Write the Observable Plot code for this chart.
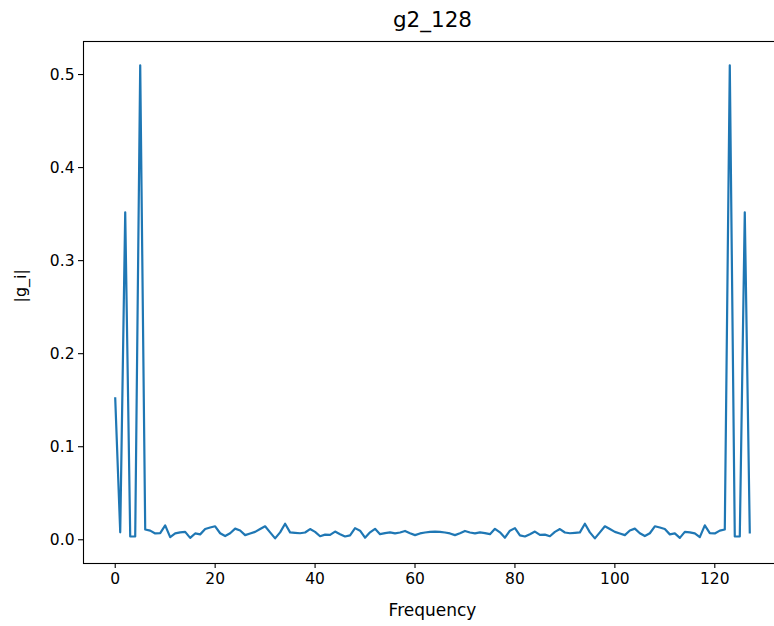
<!DOCTYPE html>
<html>
<head>
<meta charset="utf-8">
<script src="https://cdn.jsdelivr.net/npm/d3@7"></script>
<script src="https://cdn.jsdelivr.net/npm/@observablehq/plot@0.6"></script>
<style>
html, body { margin: 0; padding: 0; background: #fff; overflow: hidden; width: 774px; height: 626px; }
#chart { width: 800px; height: 626px; }
#chart svg { display: block; max-width: none !important; width: 800px !important; height: 626px !important; }
</style>
</head>
<body>
<div id="chart"></div>
<script>
const title = "g2_128";
const xLabel = "Frequency";
const yLabel = "|g_i|";
const xTicks = [0, 20, 40, 60, 80, 100, 120];
const yTicks = [0.0, 0.1, 0.2, 0.3, 0.4, 0.5];

// |g_i| for frequencies 0..127
const magnitudes = [
  0.152, 0.008, 0.352, 0.0035, 0.0035, 0.510, 0.011, 0.0098, 0.0068, 0.0072,
  0.0155, 0.0028, 0.0068, 0.0080, 0.0085, 0.0020, 0.0068, 0.0058, 0.0115, 0.0132,
  0.0145, 0.0070, 0.0040, 0.0070, 0.0120, 0.0100, 0.0050, 0.0068, 0.0085, 0.0115,
  0.0145, 0.0080, 0.0015, 0.0080, 0.0172, 0.0080, 0.0075, 0.0070, 0.0078, 0.0115,
  0.0085, 0.0038, 0.0055, 0.0052, 0.0088, 0.0060, 0.0035, 0.0048, 0.0125, 0.0098,
  0.0022, 0.0080, 0.0118, 0.0060, 0.0072, 0.0080, 0.0068, 0.0078, 0.0095, 0.0070,
  0.0050, 0.0068, 0.0078, 0.0085, 0.0088, 0.0085, 0.0078, 0.0068, 0.0050, 0.0070,
  0.0095, 0.0078, 0.0068, 0.0080, 0.0072, 0.0060, 0.0118, 0.0080, 0.0022, 0.0098,
  0.0125, 0.0048, 0.0035, 0.0060, 0.0088, 0.0052, 0.0055, 0.0038, 0.0085, 0.0115,
  0.0078, 0.0070, 0.0075, 0.0080, 0.0172, 0.0080, 0.0015, 0.0080, 0.0145, 0.0115,
  0.0085, 0.0068, 0.0050, 0.0100, 0.0120, 0.0070, 0.0040, 0.0070, 0.0145, 0.0132,
  0.0115, 0.0058, 0.0068, 0.0020, 0.0085, 0.0080, 0.0068, 0.0028, 0.0155, 0.0072,
  0.0068, 0.0098, 0.011, 0.510, 0.0035, 0.0035, 0.352, 0.008
];
const frequencies = magnitudes.map((_, i) => i);

const data = frequencies.map((f, i) => ({f, g: magnitudes[i]}));

const plot = Plot.plot({
  width: 800,
  height: 626,
  marginLeft: 83,
  marginRight: 19,
  marginTop: 41,
  marginBottom: 63,
  style: {fontFamily: "'DejaVu Sans', sans-serif", fontSize: "15.5px", color: "#000", background: "#fff"},
  x: {domain: [-6.35, 133.35]},
  y: {domain: [-0.0255, 0.5355]},
  marks: [
    Plot.line(data, {x: "f", y: "g", stroke: "#1f77b4", strokeWidth: 2.2, strokeLinejoin: "round", strokeLinecap: "square"}),
    Plot.frame({stroke: "#000", strokeWidth: 1.1}),
    Plot.axisX({ticks: xTicks, tickFormat: d => String(d), tickSize: 5, tickPadding: 4, label: null, stroke: "#000", strokeWidth: 1.1, fontSize: 15.5}),
    Plot.axisY({ticks: yTicks, tickFormat: d => d.toFixed(1), tickSize: 5, tickPadding: 4, label: null, stroke: "#000", strokeWidth: 1.1, fontSize: 15.5}),
    Plot.text([title], {text: d => d, frameAnchor: "top", lineAnchor: "middle", dy: -21, fontSize: 21.5, fill: "#000"}),
    Plot.text([xLabel], {text: d => d, frameAnchor: "bottom", lineAnchor: "middle", dy: 47, fontSize: 17, fill: "#000"}),
    Plot.text([yLabel], {text: d => d, frameAnchor: "left", lineAnchor: "middle", dx: -63, rotate: -90, fontSize: 16, fill: "#000"})
  ]
});
document.getElementById("chart").appendChild(plot);
</script>
</body>
</html>
